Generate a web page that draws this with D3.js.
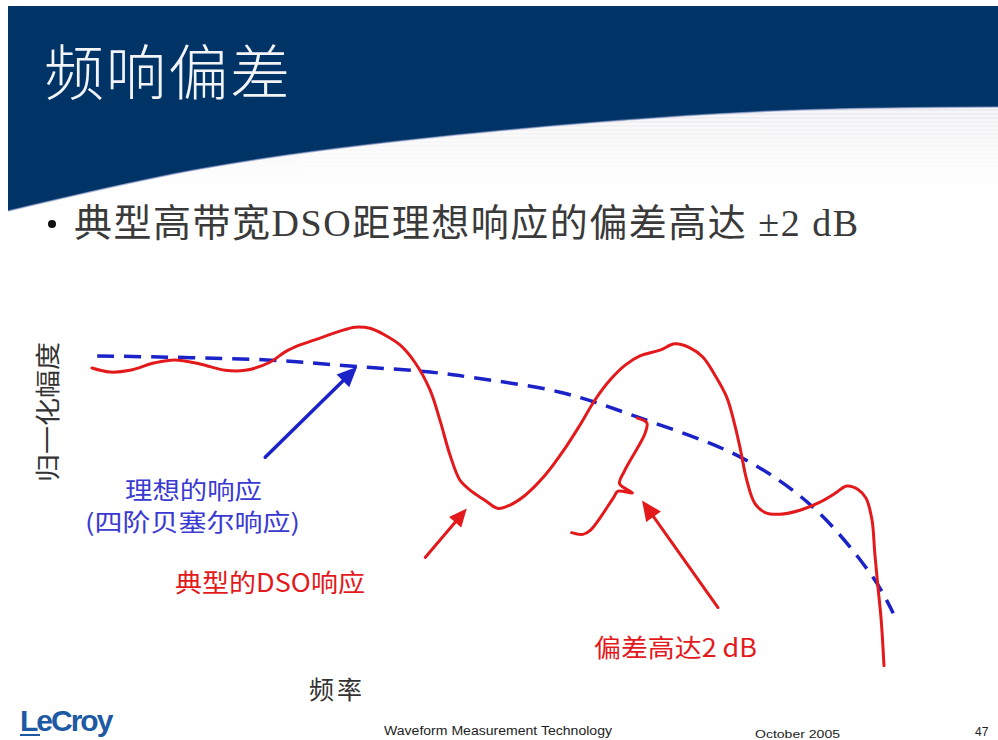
<!DOCTYPE html>
<html>
<head>
<meta charset="utf-8">
<script src="https://cdn.jsdelivr.net/npm/d3@7/dist/d3.min.js"></script>
<style>
  html, body { margin: 0; padding: 0; background: #fff; }
  svg { display: block; }
</style>
</head>
<body>
<svg id="slide" width="998" height="740"></svg>
<script>
// Normalized frequency (0–100) and amplitude in dB for the typical DSO response
const dsoFreq = [0.25, 2.5, 5, 8.1, 10.6, 13.75, 16.9, 19.4, 22.5, 24.4, 26.25, 28.75, 31.25, 33.1, 35,
  36.9, 38.75, 40.6, 42.5, 43.75, 45, 46.25, 47.5, 49.4, 51, 52.5, 54.4, 56.9, 59.4, 61.25, 63.1, 65,
  66.9, 68.75, 71.25, 73.1, 75, 76.6, 78.1, 79.6, 80.6, 81.25, 82.1, 83.1, 84.4, 86.25, 88.75, 91.25,
  93.1, 94.6, 96, 97, 97.75, 98.1, 98.5, 98.9, 99.25];
const dsoResp = [-0.19, -0.26, -0.23, -0.1, -0.05, -0.12, -0.23, -0.23, -0.09, 0.09, 0.21, 0.33, 0.45, 0.52, 0.5,
  0.38, 0.21, -0.09, -0.57, -1.1, -1.7, -2.14, -2.31, -2.49, -2.63, -2.57, -2.4, -2.05, -1.58, -1.18, -0.75, -0.4,
  -0.14, 0.02, 0.12, 0.23, 0.16, 0.0, -0.31, -0.7, -1.18, -1.57, -2.14, -2.54, -2.7, -2.73, -2.66, -2.52,
  -2.37, -2.24, -2.3, -2.45, -2.83, -3.41, -4.0, -4.57, -5.36];

// Ideal (4th-order Bessel) response
const idealFreq = [0.9, 22.1, 32.9, 42.5, 47.5, 58.75, 68.4, 81.6, 90.4, 97.9, 100.4];
const idealResp = [0.02, -0.05, -0.16, -0.26, -0.35, -0.61, -1.04, -1.76, -2.61, -3.83, -4.45];

// Annotation geometry in data units
const idealArrow = [[21.9, -1.74], [33.4, -0.17]];
const dsoArrow = [[41.9, -3.48], [47.1, -2.63]];
const devArrow = [[78.5, -4.35], [69.0, -2.49]];
const braceX = [68.4, 69.6, 69.4, 66.8, 66.2, 67.8, 66.0, 65.4, 62.6, 61.6, 60.2];
const braceY = [-1.06, -1.14, -1.32, -1.98, -2.2, -2.36, -2.33, -2.45, -3.0, -3.08, -3.05];

// Text
const titleText = "频响偏差";
const bulletText = "典型高带宽DSO距理想响应的偏差高达 ±2 dB";
const yLabel = "归一化幅度";
const xLabel = "频率";
const idealLabel = ["理想的响应", "(四阶贝塞尔响应)"];
const dsoLabel = "典型的DSO响应";
const devLabel = "偏差高达2 dB";
const footer = { left: "Waveform Measurement Technology", date: "October 2005", page: "47" };

const W = 998, H = 740;
const svg = d3.select("#slide");
const RED = "#e3191c", BLUE = "#1a22c8", BLUE_TXT = "#3a3ad2", NAVY = "#003366";
const CJK = "'Noto Sans CJK SC', 'Noto Sans', sans-serif";
const SERIF = "'Liberation Serif', 'Noto Sans CJK SC', serif";
const FOOT = "'Liberation Sans', Arial, sans-serif";

// ---- header band with a sweeping lower edge ----
const defs = svg.append("defs");
const stripeGrad = defs.append("linearGradient").attr("id", "fade").attr("x1", 0).attr("y1", 0).attr("x2", 0).attr("y2", 1);
stripeGrad.append("stop").attr("offset", 0).attr("stop-color", "#e9e9ee").attr("stop-opacity", 1);
stripeGrad.append("stop").attr("offset", 1).attr("stop-color", "#ffffff").attr("stop-opacity", 0);

const edge = [[998, 107], [800, 110], [600, 122], [400, 141], [200, 169], [8, 211]];
const edgeLine = d3.line().curve(d3.curveNatural);
const edgePath = edgeLine(edge);

// soft shading under the sweep
const shadeClip = defs.append("clipPath").attr("id", "shadeClip");
shadeClip.append("path").attr("d", edgePath + "L8,230L998,230Z");
const shade = svg.append("g").attr("clip-path", "url(#shadeClip)");
shade.append("rect").attr("x", 8).attr("y", 100).attr("width", 990).attr("height", 110).attr("fill", "url(#fade)");
shade.selectAll("line.stripe").data(d3.range(108, 200, 4)).join("line")
  .attr("x1", 300).attr("x2", 998).attr("y1", d => d).attr("y2", d => d)
  .attr("stroke", "#ffffff").attr("stroke-width", 1.5).attr("opacity", 0.7);

svg.append("path")
  .attr("d", "M8,6L998,6L" + edgePath.slice(1) + "Z")
  .attr("fill", NAVY);
svg.append("path").attr("d", edgePath).attr("fill", "none").attr("stroke", "#8a9ac8").attr("stroke-width", 1.5).attr("opacity", 0.6);

svg.append("text").text(titleText)
  .attr("x", 44).attr("y", 95)
  .attr("font-family", CJK).attr("font-weight", 300).attr("font-size", 60)
  .attr("letter-spacing", 2)
  .attr("fill", "#f2f4f8");

// bullet
svg.append("circle").attr("cx", 52).attr("cy", 224).attr("r", 4).attr("fill", "#111");
svg.append("text").text(bulletText)
  .attr("x", 74).attr("y", 236)
  .attr("font-family", SERIF).attr("font-size", 38)
  .attr("textLength", 784).attr("lengthAdjust", "spacing")
  .attr("fill", "#3a3a3a");

// ---- chart ----
const x = d3.scaleLinear().domain([0, 100]).range([90, 890]);
const y = d3.scaleLinear().domain([-6, 1]).range([702.5, 299.5]);

const line = d3.line().x(d => x(d[0])).y(d => y(d[1])).curve(d3.curveCatmullRom.alpha(0.5));

svg.append("path")
  .datum(d3.zip(idealFreq, idealResp))
  .attr("d", line)
  .attr("fill", "none").attr("stroke", BLUE).attr("stroke-width", 3.5)
  .attr("stroke-dasharray", "17 10");

svg.append("path")
  .datum(d3.zip(dsoFreq, dsoResp))
  .attr("d", line)
  .attr("fill", "none").attr("stroke", RED).attr("stroke-width", 3)
  .attr("stroke-linejoin", "round").attr("stroke-linecap", "round");

// brace marking the deviation
svg.append("path")
  .datum(d3.zip(braceX, braceY))
  .attr("d", d3.line().x(d => x(d[0])).y(d => y(d[1])).curve(d3.curveCatmullRom.alpha(0.5)))
  .attr("fill", "none").attr("stroke", RED).attr("stroke-width", 3)
  .attr("stroke-linejoin", "round").attr("stroke-linecap", "round");

function arrow(pts, color, width, headLen, headW) {
  const [p0, p1] = pts.map(p => [x(p[0]), y(p[1])]);
  const dx = p1[0] - p0[0], dy = p1[1] - p0[1];
  const len = Math.hypot(dx, dy), ux = dx / len, uy = dy / len;
  const bx = p1[0] - ux * headLen, by = p1[1] - uy * headLen;
  svg.append("line")
    .attr("x1", p0[0]).attr("y1", p0[1]).attr("x2", bx + ux * 2).attr("y2", by + uy * 2)
    .attr("stroke", color).attr("stroke-width", width).attr("stroke-linecap", "round");
  svg.append("path")
    .attr("d", `M${p1[0]},${p1[1]}L${bx - uy * headW},${by + ux * headW}L${bx + uy * headW},${by - ux * headW}Z`)
    .attr("fill", color);
}
arrow(idealArrow, BLUE, 3.5, 20, 9);
arrow(dsoArrow, RED, 3, 18, 8);
arrow(devArrow, RED, 3, 20, 9);

// labels
const ideal = svg.append("text")
  .attr("font-family", CJK).attr("font-size", 24).attr("fill", BLUE_TXT);
ideal.append("tspan").attr("x", 125).attr("y", 499).attr("textLength", 137).attr("lengthAdjust", "spacingAndGlyphs").text(idealLabel[0]);
ideal.append("tspan").attr("x", 85).attr("y", 531).attr("textLength", 215).attr("lengthAdjust", "spacingAndGlyphs").text(idealLabel[1]);

svg.append("text").text(dsoLabel)
  .attr("x", 175).attr("y", 592)
  .attr("font-family", CJK).attr("font-size", 25).attr("fill", RED)
  .attr("textLength", 190).attr("lengthAdjust", "spacingAndGlyphs");

svg.append("text").text(devLabel)
  .attr("x", 594).attr("y", 657)
  .attr("font-family", CJK).attr("font-size", 25).attr("fill", RED)
  .attr("textLength", 163).attr("lengthAdjust", "spacingAndGlyphs");

svg.append("text").text(yLabel)
  .attr("transform", "translate(57,412) rotate(-90)")
  .attr("x", -70)
  .attr("font-family", CJK).attr("font-size", 25).attr("fill", "#333")
  .attr("textLength", 140).attr("lengthAdjust", "spacingAndGlyphs");

svg.append("text").text(xLabel)
  .attr("x", 309).attr("y", 699)
  .attr("font-family", CJK).attr("font-size", 25).attr("fill", "#333")
  .attr("textLength", 53).attr("lengthAdjust", "spacing");

// ---- footer ----
svg.append("text").text("LeCroy")
  .attr("x", 20).attr("y", 731)
  .attr("font-family", FOOT).attr("font-weight", 700)
  .attr("font-size", 30).attr("letter-spacing", -2).attr("fill", "#1d5aa3");
svg.append("line").attr("x1", 20).attr("x2", 40).attr("y1", 735).attr("y2", 735)
  .attr("stroke", "#1d5aa3").attr("stroke-width", 2);

svg.append("text").text(footer.left)
  .attr("x", 384).attr("y", 735)
  .attr("font-family", FOOT).attr("font-size", 12).attr("fill", "#222")
  .attr("textLength", 228).attr("lengthAdjust", "spacingAndGlyphs");
svg.append("text").text(footer.date)
  .attr("x", 755).attr("y", 738)
  .attr("font-family", FOOT).attr("font-size", 11).attr("fill", "#222")
  .attr("textLength", 85).attr("lengthAdjust", "spacingAndGlyphs");
svg.append("text").text(footer.page)
  .attr("x", 975).attr("y", 736)
  .attr("font-family", FOOT).attr("font-size", 12).attr("fill", "#222");
</script>
</body>
</html>
